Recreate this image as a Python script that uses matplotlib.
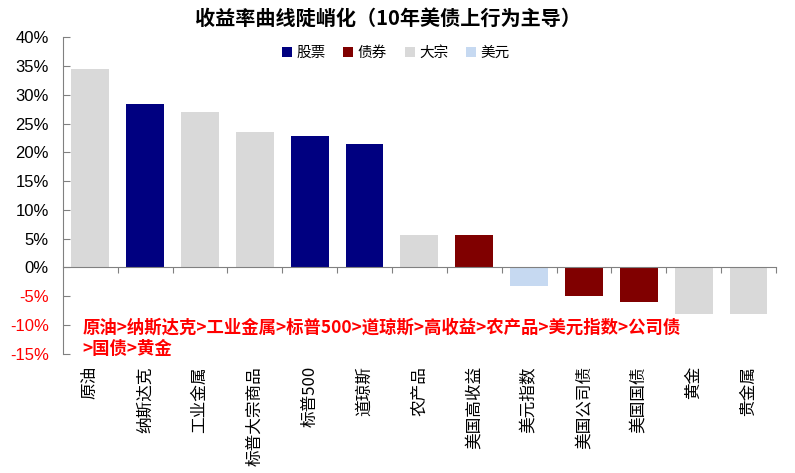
#!/usr/bin/env python3
"""Asset returns bar chart: yield curve steepening."""

import matplotlib
matplotlib.use("Agg")
import matplotlib.pyplot as plt
from matplotlib.patches import Patch
from matplotlib.ticker import FixedLocator
from matplotlib.transforms import blended_transform_factory

plt.rcParams["font.family"] = ["Noto Sans CJK SC", "DejaVu Sans"]

categories = ["原油", "纳斯达克", "工业金属", "标普大宗商品", "标普500", "道琼斯", "农产品",
              "美国高收益", "美元指数", "美国公司债", "美国国债", "黄金", "贵金属"]
returns = [34.5, 28.4, 27.1, 23.6, 22.9, 21.5, 5.7, 5.7, -3.3, -5.0, -6.0, -8.1, -8.1]
groups = ["大宗", "股票", "大宗", "大宗", "股票", "股票", "大宗",
          "债券", "美元", "债券", "债券", "大宗", "大宗"]
group_names = ["股票", "债券", "大宗", "美元"]
group_colors = {"股票": "#000080", "债券": "#800000", "大宗": "#D9D9D9", "美元": "#C6D9F1"}
y_ticks = [-15, -10, -5, 0, 5, 10, 15, 20, 25, 30, 35, 40]

title = "收益率曲线陡峭化（10年美债上行为主导）"
note = "原油>纳斯达克>工业金属>标普500>道琼斯>高收益>农产品>美元指数>公司债\n>国债>黄金"


def main() -> None:
    fig = plt.figure(figsize=(7.95, 4.73), dpi=100)
    ax = fig.add_axes([0.079, 0.2526, 0.897, 0.6684])

    x = list(range(len(categories)))
    colors = [group_colors[g] for g in groups]
    ax.bar(x, returns, width=0.69, color=colors, zorder=2)

    ax.set_xlim(-0.5, len(categories) - 0.5)
    ax.set_ylim(-15, 40)
    ax.yaxis.set_major_locator(FixedLocator(y_ticks))
    ax.set_yticklabels([f"{v}%" for v in y_ticks])
    ax.tick_params(axis="y", direction="in", length=5, color="#808080",
                   labelsize=12, pad=10)
    for lab, v in zip(ax.get_yticklabels(), y_ticks):
        lab.set_family(["Liberation Sans", "DejaVu Sans"])
        lab.set_color("#FF0000" if v < 0 else "black")

    # x axis line at zero, ticks between categories
    for side in ("top", "right"):
        ax.spines[side].set_visible(False)
    ax.spines["left"].set_color("#808080")
    ax.spines["bottom"].set_color("#808080")
    ax.spines["bottom"].set_position(("data", 0))
    ax.set_xticks([i + 0.5 for i in x])
    ax.set_xticklabels([])
    ax.tick_params(axis="x", direction="out", length=4, color="#808080")

    trans = blended_transform_factory(ax.transData, ax.transAxes)
    for i, name in zip(x, categories):
        ax.text(i, -0.04, name, rotation=90, ha="center", va="top",
                fontsize=12, transform=trans)

    fig.text(0.488, 0.962, title, ha="center", va="center",
             fontsize=14.5, fontweight="bold")

    handles = [Patch(facecolor=group_colors[g], label=g) for g in group_names]
    ax.legend(handles=handles, loc="center", bbox_to_anchor=(0.467, 0.95),
              ncol=4, frameon=False, fontsize=10.5, handlelength=0.7,
              handleheight=0.7, handletextpad=0.3, columnspacing=1.2)

    ax.text(0.028, -0.015, note, transform=ax.transAxes, ha="left", va="bottom",
            color="#FF0000", fontsize=12.5, fontweight="bold", linespacing=1.25,
            zorder=5)

    fig.savefig("out.png", dpi=100)
    plt.close(fig)


if __name__ == "__main__":
    main()
